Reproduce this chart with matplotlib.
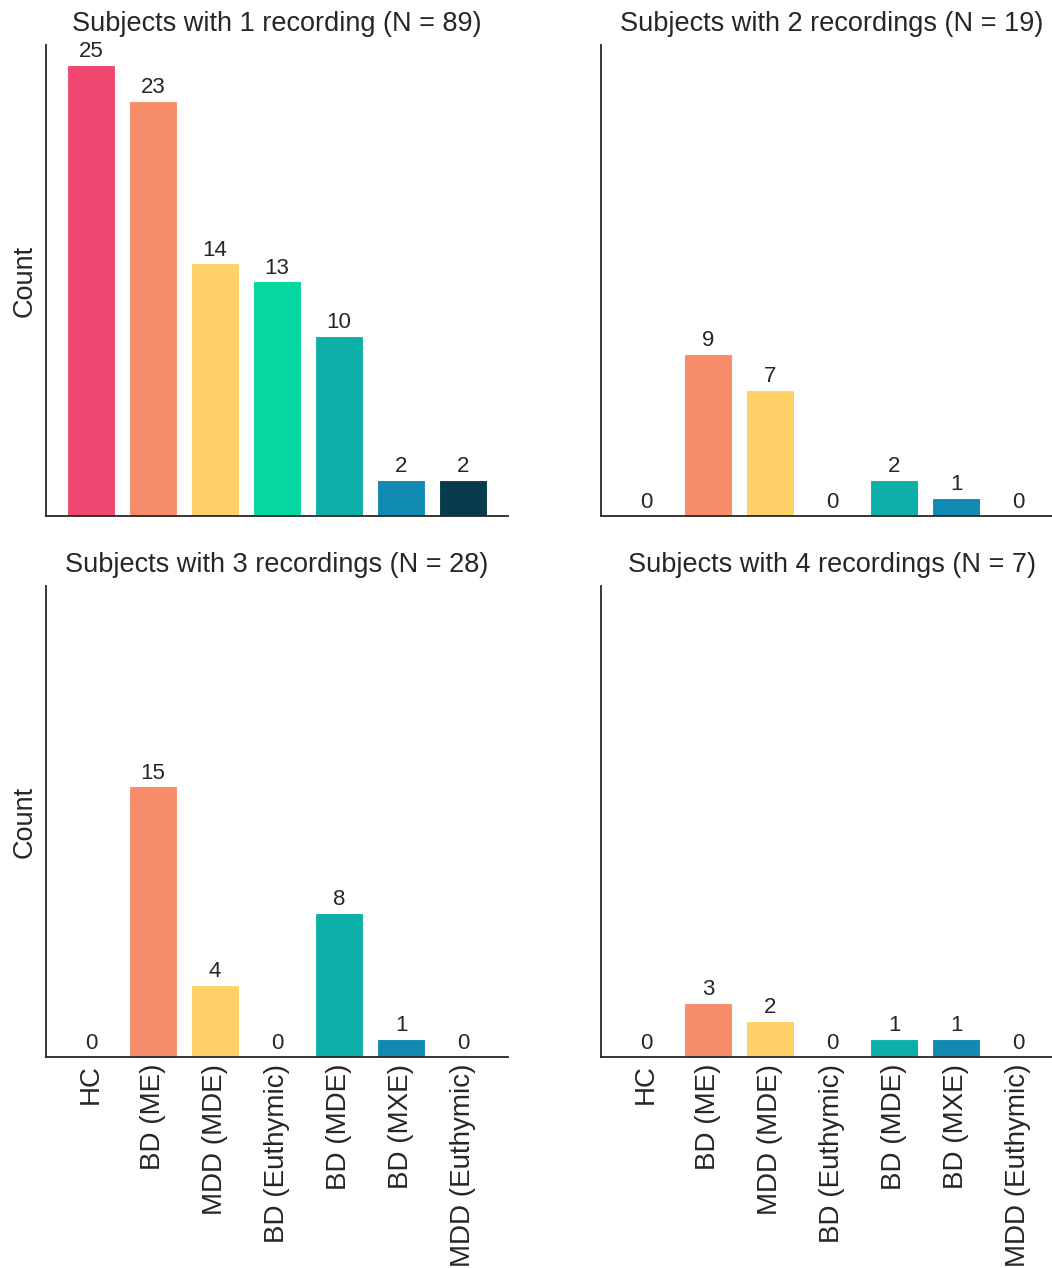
import matplotlib.pyplot as plt

categories = ['HC', 'BD (ME)', 'MDD (MDE)', 'BD (Euthymic)', 'BD (MDE)', 'BD (MXE)', 'MDD (Euthymic)']
colors = ['#EF476F', '#F78C6B', '#FFD166', '#06D6A0', '#0CB0A9', '#118AB2', '#073B4C']

one_rec = [25, 23, 14, 13, 10, 2, 2]
two_rec = [0, 9, 7, 0, 2, 1, 0]
three_rec = [0, 15, 4, 0, 8, 1, 0]
four_rec = [0, 3, 2, 0, 1, 1, 0]

titles = ['Subjects with 1 recording (N = 89)', 'Subjects with 2 recordings (N = 19)',
          'Subjects with 3 recordings (N = 28)', 'Subjects with 4 recordings (N = 7)']

plt.rcParams['font.family'] = ['Liberation Sans', 'DejaVu Sans']
plt.rcParams['text.color'] = '#262626'
plt.rcParams['axes.labelcolor'] = '#262626'
plt.rcParams['xtick.color'] = '#262626'

fig = plt.figure(figsize=(10.52, 12.68), dpi=100)
# panel boxes: [left, bottom, width, height]; right column runs past the edge
boxes = [[0.0437, 0.5931, 0.4392, 0.3714], [0.5713, 0.5931, 0.4392, 0.3714],
         [0.0437, 0.1664, 0.4392, 0.3714], [0.5713, 0.1664, 0.4392, 0.3714]]
axes = [fig.add_axes(b) for b in boxes]

for i, (ax, data, title) in enumerate(zip(axes, [one_rec, two_rec, three_rec, four_rec], titles)):
    x = range(len(categories))
    bars = ax.bar(x, data, width=0.76, color=colors, edgecolor='white', linewidth=0.8)
    for b, v in zip(bars, data):
        ax.annotate(str(v), (b.get_x() + b.get_width() / 2, v), xytext=(0, 2),
                    textcoords='offset points', ha='center', va='bottom', fontsize=16)
    ax.set_title(title, fontsize=19.5, pad=10)
    ax.set_xlim(-0.725, 6.725)
    ax.set_ylim(0, 26.1)
    ax.set_yticks([])
    ax.spines['top'].set_visible(False)
    ax.spines['right'].set_visible(False)
    for s in ['left', 'bottom']:
        ax.spines[s].set_color('#262626')
        ax.spines[s].set_linewidth(1.3)
    ax.set_xticks(list(x))
    ax.tick_params(axis='x', length=0, pad=5)
    if i >= 2:
        ax.set_xticklabels(categories, rotation=90, fontsize=20)
    else:
        ax.set_xticklabels([])
    if i % 2 == 0:
        ax.set_ylabel('Count', fontsize=19.5, labelpad=6)

fig.savefig('out.png', dpi=100)
